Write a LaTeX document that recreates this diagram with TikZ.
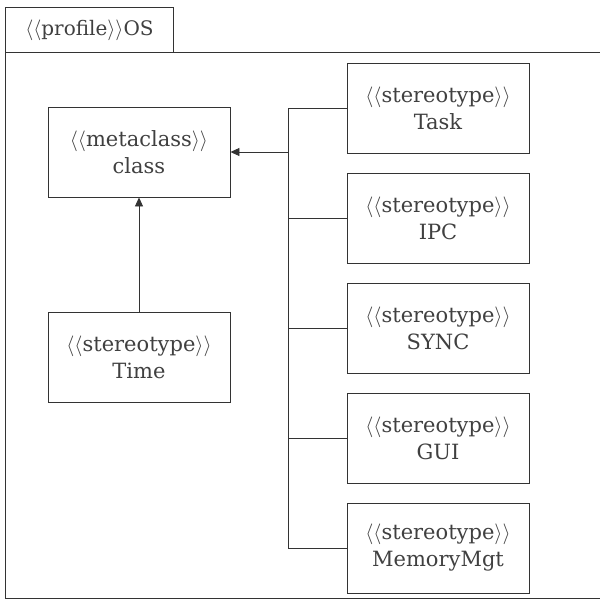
\documentclass[tikz,border=0pt]{standalone}
\usepackage{fontspec}
\setmainfont{DejaVu Serif}
\usetikzlibrary{arrows.meta}
\begin{document}
\begin{tikzpicture}[x=1pt,y=1pt,
  line width=0.9pt, draw=black!80,
  umlbox/.style={draw=black!80, line width=0.9pt, minimum width=182pt, minimum height=90pt,
     inner sep=0pt, align=center, font=\fontsize{21}{27}\selectfont, text=black!75},
  link/.style={draw=black!80, line width=0.9pt},
  gen/.style={link, -{Triangle[length=9pt,width=8pt]}}]
\useasboundingbox (0,0) rectangle (600,-606);
\fill[white] (0,0) rectangle (600,-606);
% package frame
\draw[black!80, line width=1pt] (5,-52) rectangle (605,-598);
\node[draw=black!80, line width=0.9pt, anchor=north west, minimum width=168pt, minimum height=45pt,
  inner sep=0pt, font=\fontsize{20}{24}\selectfont, text=black!75] (tab) at (5,-7)
  {$\langle\langle$profile$\rangle\rangle$OS};
% left boxes
\node[umlbox] (class) at (139,-152) {$\langle\langle$metaclass$\rangle\rangle$\\class};
\node[umlbox] (time) at (139,-357) {$\langle\langle$stereotype$\rangle\rangle$\\Time};
% right boxes
\node[umlbox] (task) at (438,-108) {$\langle\langle$stereotype$\rangle\rangle$\\Task};
\node[umlbox] (ipc) at (438,-218) {$\langle\langle$stereotype$\rangle\rangle$\\IPC};
\node[umlbox] (sync) at (438,-328) {$\langle\langle$stereotype$\rangle\rangle$\\SYNC};
\node[umlbox] (gui) at (438,-438) {$\langle\langle$stereotype$\rangle\rangle$\\GUI};
\node[umlbox] (mem) at (438,-548) {$\langle\langle$stereotype$\rangle\rangle$\\MemoryMgt};
% bus
\coordinate (btop) at (288,-108);
\coordinate (bbot) at (288,-548);
\coordinate (bmid) at (288,-152);
\draw[link] (task.west) -- (btop) -- (bbot) -- (mem.west);
\draw[link] (ipc.west) -- (ipc.west -| btop);
\draw[link] (sync.west) -- (sync.west -| btop);
\draw[link] (gui.west) -- (gui.west -| btop);
\draw[gen] (bmid) -- (class.east);
\draw[gen] (time.north) -- (class.south);
\end{tikzpicture}
\end{document}
